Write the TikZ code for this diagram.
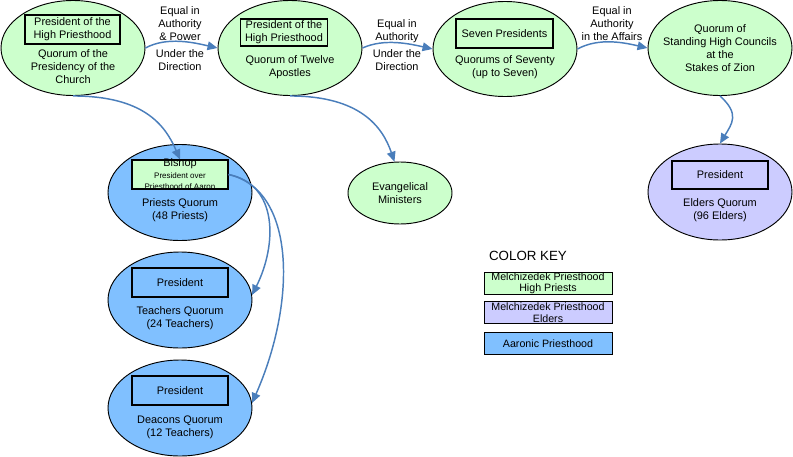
\documentclass[tikz,border=0pt]{standalone}
\usepackage{fontspec}
\setmainfont{Liberation Sans}
\usetikzlibrary{shapes.geometric,arrows.meta}

\definecolor{hpgreen}{RGB}{204,255,204}
\definecolor{elderblue}{RGB}{204,204,255}
\definecolor{aaronblue}{RGB}{128,192,255}
\definecolor{linkblue}{RGB}{74,126,187}

\tikzset{
  quorum/.style={ellipse, draw, line width=0.7pt, inner sep=0pt, minimum width=108pt, minimum height=72pt},
  presbox/.style={draw, line width=0.8pt, inner sep=0pt, minimum width=72pt, minimum height=21.75pt, align=center, font=\fontsize{8.2}{9.75}\selectfont},
  txt/.style={inner sep=0pt, align=center, font=\fontsize{8.2}{9.75}\selectfont},
  keybox/.style={draw, line width=0.7pt, inner sep=0pt, minimum width=96pt, minimum height=16pt, align=center, font=\fontsize{8}{8.6}\selectfont},
  link/.style={linkblue, line width=1.1pt, -{Triangle[length=7.5pt,width=6.5pt]}}
}

\begin{document}
\begin{tikzpicture}[x=0.75pt,y=0.75pt,yscale=-1,xscale=1]
\useasboundingbox (0,0) rectangle (793,457);

%Shape: Ellipse [top row]
\node [quorum, fill=hpgreen, minimum height=71.25pt] (pres) at (73,48) {};
\node [quorum, fill=hpgreen, minimum height=71.25pt] (twelve) at (290,48) {};
\node [quorum, fill=hpgreen, minimum height=71.25pt] (seventy) at (505,49) {};
\node [quorum, fill=hpgreen, minimum height=71.25pt] (zion) at (720,48) {};

%Shape: Ellipse [lower quorums]
\node [quorum, fill=aaronblue] (priests) at (180,192.5) {};
\node [quorum, fill=aaronblue] (teach) at (180,300) {};
\node [quorum, fill=aaronblue] (deac) at (180,408) {};
\node [quorum, fill=hpgreen, minimum width=78pt, minimum height=46.5pt, align=center, font=\fontsize{8.2}{9.75}\selectfont] (evang) at (400,193) {Evangelical\\Ministers};
\node [quorum, fill=elderblue] (elders) at (720,192) {};

%Shape: Rectangle [presidencies]
\node [presbox, minimum width=71.25pt] (presbox) at (72.5,29.5) {President of the\\High Priesthood};
\node [presbox, minimum width=65pt, minimum height=20.25pt] (twelvebox) at (284,32.5) {President of the\\High Priesthood};
\node [presbox, minimum width=72.75pt] (seventybox) at (504.5,33.5) {Seven Presidents};
\node [presbox, fill=hpgreen] (bishop) at (180,174.5) {};
\node [presbox] (teachbox) at (180,282.5) {President};
\node [presbox] (deacbox) at (180,390.5) {President};
\node [presbox, minimum height=21pt] (elderbox) at (720,175) {President};

% Text Node
\node [txt] (bishoptxt) at (180,174) {Bishop\\[-1pt]{\fontsize{6}{7}\selectfont President over}\\[-1.5pt]{\fontsize{6}{7}\selectfont Priesthood of Aaron}};
% Text Node
\node [txt] (prestxt) at (73,67) {Quorum of the\\Presidency of the\\Church};
% Text Node
\node [txt] (twelvetxt) at (290,67) {Quorum of Twelve\\Apostles};
% Text Node
\node [txt] (seventytxt) at (505,67) {Quorums of Seventy\\(up to Seven)};
% Text Node
\node [txt] (ziontxt) at (720,48) {Quorum of\\Standing High Councils\\at the\\Stakes of Zion};
% Text Node
\node [txt] (priesttxt) at (180,210.5) {Priests Quorum\\(48 Priests)};
% Text Node
\node [txt] (teachtxt) at (180,318.5) {Teachers Quorum\\(24 Teachers)};
% Text Node
\node [txt] (deactxt) at (180,427) {Deacons Quorum\\(12 Teachers)};
% Text Node
\node [txt] (eldertxt) at (720,210.5) {Elders Quorum\\(96 Elders)};

% Text Node [edge labels]
\node [txt] (powerlbl) at (180,24) {Equal in\\Authority\\\& Power};
\node [txt] (dirlbl) at (180,60) {Under the\\Direction};
\node [txt] (authlbl) at (397,31) {Equal in\\Authority};
\node [txt] (dirlblb) at (397,60) {Under the\\Direction};
\node [txt] (affairlbl) at (612,24) {Equal in\\Authority\\in the Affairs};

%Color key
\node [inner sep=0pt, font=\fontsize{10}{12}\selectfont] (keytitle) at (528,256) {COLOR KEY};
\node [keybox, fill=hpgreen, minimum height=16.5pt] (keyhigh) at (548,283) {Melchizedek Priesthood\\High Priests};
\node [keybox, fill=elderblue] (keyelder) at (548,312.5) {Melchizedek Priesthood\\Elders};
\node [keybox, fill=aaronblue] (keyaaron) at (548,343.5) {Aaronic Priesthood};

%Curve Lines
\draw [link] (pres.east) .. controls +(22,-12) and +(-22,-5) .. (twelve.west);
\draw [link] (twelve.east) .. controls +(22,-10) and +(-22,-5) .. (seventy.west);
\draw [link] (seventy.east) .. controls +(22,-12) and +(-22,-5) .. (zion.west);
\draw [link] (pres.south) .. controls +(70,0) and +(-15,-35) .. (bishop.north);
\draw [link] (twelve.south) .. controls +(70,0) and +(-12,-35) .. (evang.100);
\draw [link] (zion.south) .. controls +(20,18) and +(12,-20) .. (elders.north);
\draw [link] (bishop.east) .. controls +(50,10) and +(25,-50) .. (teach.4);
\draw [link] (bishop.east) .. controls +(67,15) and +(45,-102) .. (deac.4);

\end{tikzpicture}
\end{document}
